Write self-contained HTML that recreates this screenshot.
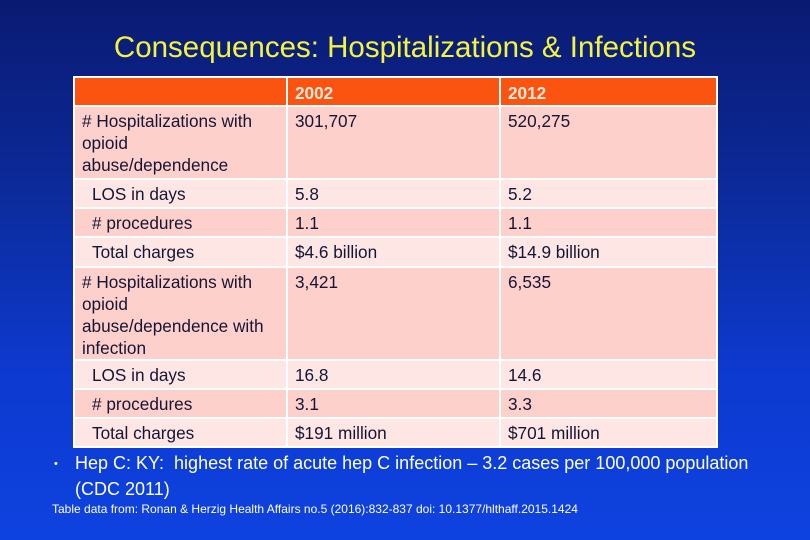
<!DOCTYPE html>
<html><head><meta charset="utf-8">
<style>
body{margin:0;width:810px;height:540px;overflow:hidden;}
#slide{position:relative;width:810px;height:540px;background:linear-gradient(to bottom,#0a1a72 0%,#0c2a9a 35%,#0d3ad0 70%,#0e42e0 100%);font-family:"Liberation Sans",sans-serif;}
#title{position:absolute;left:0;width:810px;top:31px;text-align:center;color:#f4f43c;font-size:29.5px;}
#tbl{position:absolute;left:73px;top:76px;width:645px;height:372px;background:#fff;}
.c{position:absolute;box-sizing:border-box;color:#151535;font-size:17.2px;line-height:22px;padding:3px 7px;white-space:nowrap;}
.h{background:#fb5310;color:#fde8d8;font-weight:bold;padding-top:4px;}
.d{background:#fdd0cc;}
.l{background:#fde6e3;}
.ind{padding-left:17px;}
#bullet{position:absolute;left:54px;top:452px;color:#fff;font-size:18px;line-height:23px;white-space:nowrap;}
#src{position:absolute;left:52px;top:502px;color:#fff;font-size:12px;}
</style></head><body>
<div id="slide">
<div id="title">Consequences: Hospitalizations &amp; Infections</div>
<div id="tbl">
<div class="c h" style="left:2px;top:2px;width:211px;height:27px"></div>
<div class="c h" style="left:215px;top:2px;width:211px;height:27px">2002</div>
<div class="c h" style="left:428px;top:2px;width:215px;height:27px">2012</div>

<div class="c d" style="left:2px;top:31px;width:211px;height:71px"># Hospitalizations with<br>opioid<br>abuse/dependence</div>
<div class="c d" style="left:215px;top:31px;width:211px;height:71px">301,707</div>
<div class="c d" style="left:428px;top:31px;width:215px;height:71px">520,275</div>

<div class="c l ind" style="left:2px;top:104px;width:211px;height:27px">LOS in days</div>
<div class="c l" style="left:215px;top:104px;width:211px;height:27px">5.8</div>
<div class="c l" style="left:428px;top:104px;width:215px;height:27px">5.2</div>

<div class="c d ind" style="left:2px;top:133px;width:211px;height:27px"># procedures</div>
<div class="c d" style="left:215px;top:133px;width:211px;height:27px">1.1</div>
<div class="c d" style="left:428px;top:133px;width:215px;height:27px">1.1</div>

<div class="c l ind" style="left:2px;top:162px;width:211px;height:28px">Total charges</div>
<div class="c l" style="left:215px;top:162px;width:211px;height:28px">$4.6 billion</div>
<div class="c l" style="left:428px;top:162px;width:215px;height:28px">$14.9 billion</div>

<div class="c d" style="left:2px;top:192px;width:211px;height:91px"># Hospitalizations with<br>opioid<br>abuse/dependence with<br>infection</div>
<div class="c d" style="left:215px;top:192px;width:211px;height:91px">3,421</div>
<div class="c d" style="left:428px;top:192px;width:215px;height:91px">6,535</div>

<div class="c l ind" style="left:2px;top:285px;width:211px;height:27px">LOS in days</div>
<div class="c l" style="left:215px;top:285px;width:211px;height:27px">16.8</div>
<div class="c l" style="left:428px;top:285px;width:215px;height:27px">14.6</div>

<div class="c d ind" style="left:2px;top:314px;width:211px;height:27px"># procedures</div>
<div class="c d" style="left:215px;top:314px;width:211px;height:27px">3.1</div>
<div class="c d" style="left:428px;top:314px;width:215px;height:27px">3.3</div>

<div class="c l ind" style="left:2px;top:343px;width:211px;height:27px">Total charges</div>
<div class="c l" style="left:215px;top:343px;width:211px;height:27px">$191 million</div>
<div class="c l" style="left:428px;top:343px;width:215px;height:27px">$701 million</div>
</div>
<div id="bullet"><span style="font-size:11px;position:relative;top:-2px">•</span><span style="position:absolute;left:21px;top:0">Hep C: KY:&nbsp; highest rate of acute hep C infection – 3.2 cases per 100,000 population</span><br><span style="padding-left:21px">(CDC 2011)</span></div>
<div id="src">Table data from: Ronan &amp; Herzig Health Affairs no.5 (2016):832-837 doi: 10.1377/hlthaff.2015.1424</div>
</div>
</body></html>
